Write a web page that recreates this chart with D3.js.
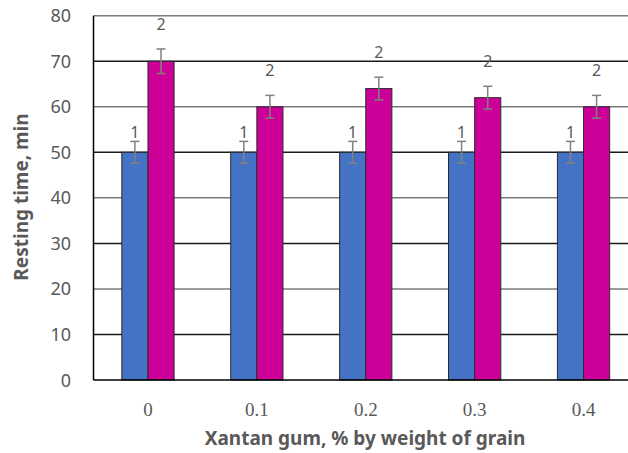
<!DOCTYPE html>
<html>
<head>
<meta charset="utf-8">
<script src="https://cdn.jsdelivr.net/npm/d3@7"></script>
<style>
  body { margin: 0; background: #fff; }
</style>
</head>
<body>
<svg id="chart" width="628" height="453"></svg>
<script>
    // chart values
    var categories = ["0", "0.1", "0.2", "0.3", "0.4"];
    var series1 = [50, 50, 50, 50, 50];
    var series2 = [70, 60, 64, 62, 60];
    var err1 = [2.4, 2.4, 2.4, 2.4, 2.4];
    var err2 = [2.7, 2.5, 2.5, 2.5, 2.5];
    var seriesLabels = ["1", "2"];
    var yTicks = [0, 10, 20, 30, 40, 50, 60, 70, 80];

    var svg = d3.select("#chart");
    var left = 93.5, right = 638, plotTop = 15.7, bottom = 380;

    var x = d3.scaleBand()
        .domain(categories)
        .range([left, right])
        .paddingInner(0.52)
        .paddingOuter(0.26);

    var y = d3.scaleLinear().domain([0, 80]).range([bottom, plotTop]);

    //gridlines
    svg.selectAll("line.grid")
        .data(yTicks.filter(function(d){ return d > 0; }))
        .enter().append("line")
        .attr("class", "grid")
        .attr("x1", left).attr("x2", 628)
        .attr("y1", function(d){ return y(d); })
        .attr("y2", function(d){ return y(d); })
        .attr("stroke", function(d){ return (d / 10) % 2 == 1 ? "#1a1a1a" : "#7a7a7a"; })
        .attr("stroke-width", 1.5);

    // y tick labels
    svg.selectAll("text.ytick")
        .data(yTicks)
        .enter().append("text")
        .attr("class", "ytick")
        .attr("x", 71)
        .attr("y", function(d){ return y(d) + 6.5; })
        .attr("text-anchor", "end")
        .attr("font-family", "Noto Sans")
        .attr("font-size", "18px")
        .attr("fill", "#595959")
        .text(function(d){ return d; });

    var rows = categories.map(function(c, i){
        return {cat: c, vals: [
            {s: 0, v: series1[i], e: err1[i]},
            {s: 1, v: series2[i], e: err2[i]}
        ]};
    });

    var colors = ["#4472C4", "#CC0099"];
    var bw = x.bandwidth() / 2;

    var groups = svg.selectAll("g.group")
        .data(rows).enter().append("g")
        .attr("class", "group")
        .attr("transform", function(d){ return "translate(" + x(d.cat) + ",0)"; });

    var bars = groups.selectAll("g.bar").data(function(d){ return d.vals; })
        .enter().append("g").attr("class", "bar");

    bars.append("rect")
        .attr("x", function(d){ return d.s * bw; })
        .attr("y", function(d){ return y(d.v); })
        .attr("width", bw)
        .attr("height", function(d){ return y(0) - y(d.v); })
        .attr("fill", function(d){ return colors[d.s]; })
        .attr("stroke", "#2b2b2b")
        .attr("stroke-width", 1);

    // error bars
    bars.append("line")
        .attr("x1", function(d){ return d.s * bw + bw / 2; })
        .attr("x2", function(d){ return d.s * bw + bw / 2; })
        .attr("y1", function(d){ return y(d.v + d.e); })
        .attr("y2", function(d){ return y(d.v - d.e); })
        .attr("stroke", "#808080").attr("stroke-width", 1.5);
    bars.selectAll("line.cap")
        .data(function(d){ return [d.v + d.e, d.v - d.e].map(function(v){ return {s: d.s, v: v}; }); })
        .enter().append("line")
        .attr("class", "cap")
        .attr("x1", function(d){ return d.s * bw + bw / 2 - 4.5; })
        .attr("x2", function(d){ return d.s * bw + bw / 2 + 4.5; })
        .attr("y1", function(d){ return y(d.v); })
        .attr("y2", function(d){ return y(d.v); })
        .attr("stroke", "#808080").attr("stroke-width", 1.5);

    // data labels
    bars.append("text")
        .attr("x", function(d){ return d.s * bw + bw / 2; })
        .attr("y", function(d){ return y(d.v) - (d.s == 0 ? 14 : 31); })
        .attr("text-anchor", "middle")
        .attr("font-family", "Noto Sans")
        .attr("font-size", "16px")
        .attr("fill", "#595959")
        .text(function(d){ return seriesLabels[d.s]; });

    // axes lines
    svg.append("line")
        .attr("x1", left).attr("x2", left)
        .attr("y1", plotTop).attr("y2", bottom)
        .attr("stroke", "#000").attr("stroke-width", 1.5);
    svg.append("line")
        .attr("x1", left).attr("x2", 628)
        .attr("y1", bottom).attr("y2", bottom)
        .attr("stroke", "#000").attr("stroke-width", 1.5);

    // x tick labels
    svg.selectAll("text.xtick")
        .data(categories)
        .enter().append("text")
        .attr("class", "xtick")
        .attr("x", function(d){ return x(d) + x.bandwidth() / 2; })
        .attr("y", 416)
        .attr("text-anchor", "middle")
        .attr("font-family", "Liberation Serif")
        .attr("font-size", "19px")
        .attr("fill", "#595959")
        .text(function(d){ return d; });

    svg.append("text")
        .attr("x", 365).attr("y", 445)
        .attr("text-anchor", "middle")
        .attr("font-family", "Noto Sans")
        .attr("font-weight", "bold")
        .attr("font-size", "19px")
        .attr("fill", "#595959")
        .text("Xantan gum, % by weight of grain");

    svg.append("text")
        .attr("transform", "translate(28,197) rotate(-90)")
        .attr("text-anchor", "middle")
        .attr("font-family", "Noto Sans")
        .attr("font-weight", "bold")
        .attr("font-size", "19px")
        .attr("fill", "#595959")
        .text("Resting time, min");
</script>
</body>
</html>
